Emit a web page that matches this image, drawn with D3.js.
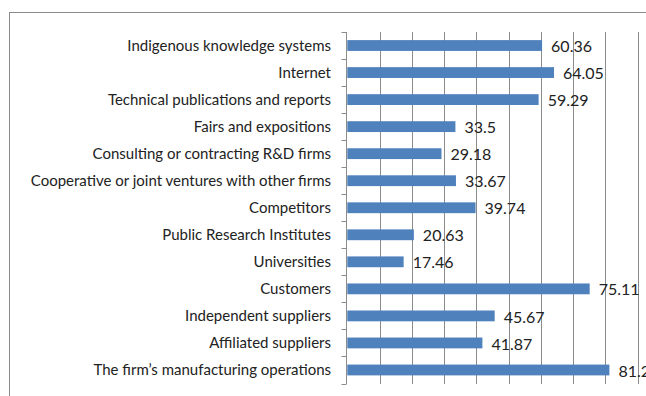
<!DOCTYPE html>
<html>
<head>
<meta charset="utf-8">
<script src="https://cdn.jsdelivr.net/npm/d3@7"></script>
<style>
  html, body { margin: 0; padding: 0; background: #fff; overflow: hidden; }
  svg { display: block; }
</style>
</head>
<body>
<script>
// Sources of information for innovation (% of firms)
const categories = [
  "Indigenous knowledge systems",
  "Internet",
  "Technical publications and reports",
  "Fairs and expositions",
  "Consulting or contracting R&D firms",
  "Cooperative or joint ventures with other firms",
  "Competitors",
  "Public Research Institutes",
  "Universities",
  "Customers",
  "Independent suppliers",
  "Affiliated suppliers",
  "The firm\u2019s manufacturing operations"
];
const values = [60.36, 64.05, 59.29, 33.5, 29.18, 33.67, 39.74, 20.63, 17.46, 75.11, 45.67, 41.87, 81.22];
const valueLabels = ["60.36", "64.05", "59.29", "33.5", "29.18", "33.67", "39.74", "20.63", "17.46", "75.11", "45.67", "41.87", "81.22"];
const gridTicks = [0, 10, 20, 30, 40, 50, 60, 70, 80, 90, 100];

const W = 646, H = 396;
const svg = d3.select("body").append("svg").attr("width", W).attr("height", H);

const font = "Lato, 'Open Sans', sans-serif";

// outer chart frame
svg.append("rect")
  .attr("x", 9.5).attr("y", 12.5)
  .attr("width", 700).attr("height", 500)
  .attr("fill", "none").attr("stroke", "#8a8a8a").attr("stroke-width", 1);

const x = d3.scaleLinear().domain([0, 100]).range([347.3, 670]);
const y = d3.scaleBand().domain(categories).range([32, 383.5]).paddingInner(0.6).paddingOuter(0.3);

// vertical gridlines
svg.append("g").selectAll("line")
  .data(gridTicks.slice(1))
  .join("line")
  .attr("x1", d => Math.round(x(d)) + 0.5).attr("x2", d => Math.round(x(d)) + 0.5)
  .attr("y1", 32).attr("y2", 384)
  .attr("stroke", "#8c8c8c").attr("stroke-width", 1);

// bars
svg.append("g").selectAll("rect")
  .data(values)
  .join("rect")
  .attr("x", x(0))
  .attr("y", (d, i) => y(categories[i]))
  .attr("width", d => x(d) - x(0))
  .attr("height", y.bandwidth())
  .attr("fill", "#4f81bd");

// category axis with tick marks between categories
const yAxis = svg.append("g").attr("transform", `translate(${Math.round(x(0)) - 0.5},0)`);
yAxis.append("line")
  .attr("x1", 0).attr("x2", 0).attr("y1", 32).attr("y2", 384)
  .attr("stroke", "#8c8c8c");
const step = (383.5 - 32) / categories.length;
yAxis.selectAll("line.tick")
  .data(d3.range(categories.length + 1))
  .join("line")
  .attr("class", "tick")
  .attr("x1", -5).attr("x2", 0)
  .attr("y1", i => Math.round(32 + i * step) + 0.5)
  .attr("y2", i => Math.round(32 + i * step) + 0.5)
  .attr("stroke", "#8c8c8c");

// category labels
svg.append("g").selectAll("text")
  .data(categories)
  .join("text")
  .attr("x", 331)
  .attr("y", d => y(d) + y.bandwidth() / 2)
  .attr("dy", "0.35em")
  .attr("text-anchor", "end")
  .attr("font-family", font)
  .attr("font-size", 15)
  .attr("fill", "#222")
  .text(d => d);

// value labels
svg.append("g").selectAll("text")
  .data(values)
  .join("text")
  .attr("x", d => x(d) + 9)
  .attr("y", (d, i) => y(categories[i]) + y.bandwidth() / 2 + 1)
  .attr("dy", "0.35em")
  .attr("font-family", font)
  .attr("font-size", 16)
  .attr("fill", "#222")
  .text((d, i) => valueLabels[i]);
</script>
</body>
</html>
